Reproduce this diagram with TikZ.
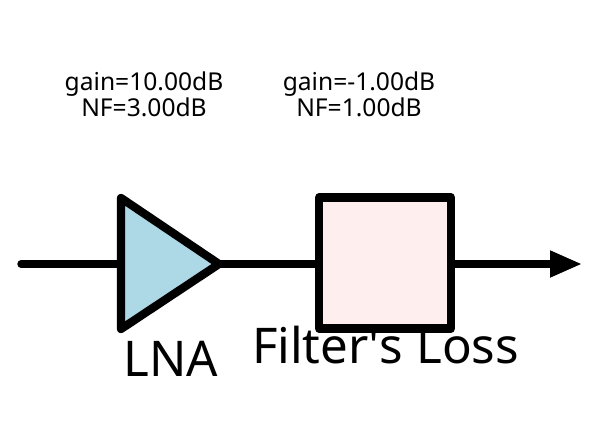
\documentclass[tikz,border=0pt]{standalone}
\usepackage{fontspec}
\setmainfont{Noto Sans}
\usepackage{xcolor}
\usetikzlibrary{arrows.meta,positioning,calc}
\definecolor{lnafill}{HTML}{ADD8E6}
\definecolor{lossfill}{HTML}{FFEEEE}
\tikzset{
  px/.style={x=0.75pt,y=-0.75pt},
  wire/.style={line width=5.6pt, line cap=round, line join=round},
  part/.style={line width=6.2pt, line cap=round, line join=round},
  ar/.style={-{Triangle[length=24pt,width=18.8pt]}, line width=5.6pt},
  info/.style={font=\fontsize{18.45pt}{17.6pt}\selectfont, align=center, inner sep=0pt},
  title/.style={font=\fontsize{36.9pt}{40pt}\selectfont, inner sep=0pt}
}
\begin{document}
\begin{tikzpicture}[px]
\useasboundingbox (0,0) rectangle (605,426);
% ---- stages ----
\coordinate (in) at (21,264);
\coordinate (amp) at (121,264);
\coordinate (ampout) at (219,264);
\node[draw, part, fill=lossfill, minimum width=98.8pt, minimum height=98.4pt, inner sep=0pt] (loss) at (385,263) {};
\coordinate (lossout) at (451,264);
\coordinate (tip) at (582,264);
% ---- wires ----
\draw[wire] (in) -- (amp);
\draw[wire] (ampout) -- (319,264);
\draw[ar] (lossout) -- (tip);
% ---- LNA ----
\draw[part, fill=lnafill] (121,198) -- (ampout) -- (121,329) -- cycle;
% ---- labels ----
\node[info] (lnainfo) at (144,94) {gain=10.00dB\\NF=3.00dB};
\node[info] (lossinfo) at (359,94) {gain=-1.00dB\\NF=1.00dB};
\node[title] (lnalabel) at (171,359) {LNA};
\node[title] (losslabel) at (385.5,345) {Filter\textquotesingle s Loss};
\end{tikzpicture}
\end{document}
